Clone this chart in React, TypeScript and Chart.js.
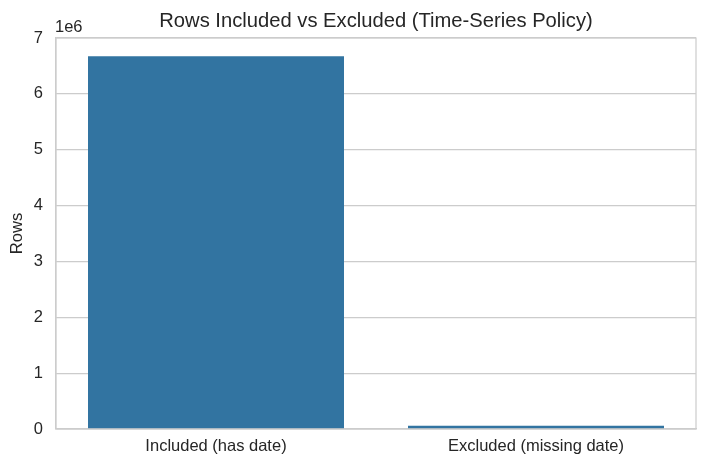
import { useEffect, useRef } from "react"
import { Chart, registerables } from "chart.js"

Chart.register(...registerables)

// Chart data
const categories = ["Included (has date)", "Excluded (missing date)"]
const rowCounts = [6675000, 60000]
const yTicks = [0, 1, 2, 3, 4, 5, 6, 7]

const FONT = "'Liberation Sans', Arial, sans-serif"
const TEXT = "#262626"

// draws the top/right spines, title and the "1e6" offset label
const decorations = {
  id: "decorations",
  afterDraw(chart: Chart) {
    const { ctx, chartArea } = chart
    ctx.save()
    ctx.strokeStyle = "#cccccc"
    ctx.lineWidth = 1.2
    ctx.strokeRect(chartArea.left, chartArea.top, chartArea.right - chartArea.left, chartArea.bottom - chartArea.top)
    ctx.fillStyle = TEXT
    ctx.font = `20.2px ${FONT}`
    ctx.textAlign = "center"
    ctx.textBaseline = "middle"
    ctx.fillText("Rows Included vs Excluded (Time-Series Policy)", (chartArea.left + chartArea.right) / 2, 21)
    ctx.font = `16.5px ${FONT}`
    ctx.textAlign = "left"
    ctx.fillText("1e6", chartArea.left - 1, 27)
    ctx.restore()
  },
}

export default function App() {
  const chartRef = useRef<HTMLCanvasElement>(null)
  const chartInstance = useRef<Chart | null>(null)

  useEffect(() => {
    document.body.style.margin = "0"
    if (!chartRef.current) return
    if (chartInstance.current) chartInstance.current.destroy()

    chartInstance.current = new Chart(chartRef.current, {
      type: "bar",
      data: {
        labels: categories,
        datasets: [
          {
            label: "Rows",
            data: rowCounts,
            backgroundColor: "#3274a1",
            borderWidth: 0,
            barPercentage: 0.8,
            categoryPercentage: 1,
          },
        ],
      },
      options: {
        animation: false,
        responsive: false,
        maintainAspectRatio: false,
        layout: { padding: { left: 0, right: 11, top: 38, bottom: 0 } },
        plugins: {
          legend: { display: false },
          tooltip: { enabled: false },
        },
        scales: {
          x: {
            grid: { display: false, drawTicks: false },
            border: { display: true, color: "#cccccc", width: 1.2 },
            ticks: { color: TEXT, font: { family: FONT, size: 16.5 }, padding: 8 },
            afterFit: (scale) => {
              scale.height = 39
            },
          },
          y: {
            min: 0,
            max: 7000000,
            afterBuildTicks: (scale) => {
              scale.ticks = yTicks.map((v) => ({ value: v * 1e6 }))
            },
            grid: { color: "#cccccc", lineWidth: 1.2, drawTicks: false },
            border: { display: true, color: "#cccccc", width: 1.2 },
            ticks: {
              color: TEXT,
              font: { family: FONT, size: 16.5 },
              padding: 13,
              callback: (value) => String(Number(value) / 1e6),
            },
            title: {
              display: true,
              text: "Rows",
              color: TEXT,
              font: { family: FONT, size: 16.5 },
              padding: { top: 8, bottom: 0 },
            },
            afterFit: (scale) => {
              scale.width = 56
            },
          },
        },
      },
      plugins: [decorations],
    })

    return () => {
      if (chartInstance.current) {
        chartInstance.current.destroy()
        chartInstance.current = null
      }
    }
  }, [])

  return (
    <div style={{ width: 707, height: 468 }}>
      <canvas ref={chartRef} width={707} height={468} style={{ display: "block" }} />
    </div>
  )
}
